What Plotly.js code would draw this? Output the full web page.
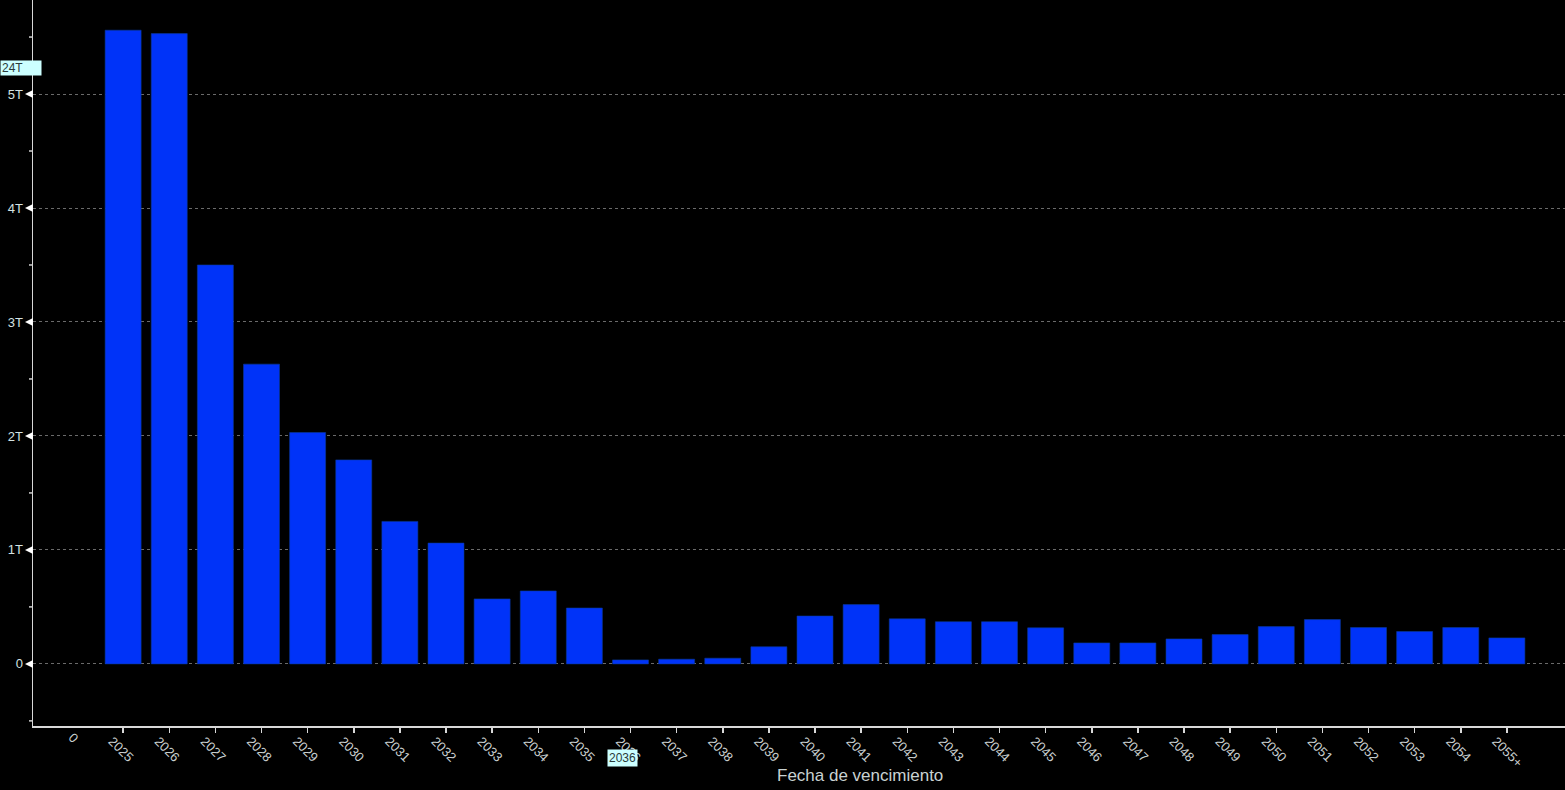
<!DOCTYPE html>
<html>
<head>
<meta charset="utf-8">
<script src="https://cdn.plot.ly/plotly-3.0.1.min.js"></script>
<style>
html,body{margin:0;padding:0;background:#000;}
#chart{width:1565px;height:790px;}
</style>
</head>
<body>
<div id="chart"></div>
<script>
// Categories (maturity year) and outstanding amount in trillions
const categories = ["0","2025","2026","2027","2028","2029","2030","2031","2032","2033","2034","2035","2036","2037","2038","2039","2040","2041","2042","2043","2044","2045","2046","2047","2048","2049","2050","2051","2052","2053","2054","2055+"];
const valuesT = [null,5.56,5.53,3.50,2.63,2.03,1.79,1.25,1.06,0.57,0.64,0.49,0.035,0.041,0.05,0.15,0.42,0.52,0.395,0.37,0.37,0.316,0.184,0.184,0.219,0.257,0.327,0.389,0.319,0.284,0.319,0.228];
const yTickVals = [0,1,2,3,4,5];
const yTickText = ["0","1T","2T","3T","4T","5T"];
const yMinorVals = [-0.5,0.5,1.5,2.5,3.5,4.5,5.5];
const xTitle = "Fecha de vencimiento";
const crossYLabel = "24T";
const crossYValue = 5.23;
const crossXLabel = "2036";

const font = "Liberation Sans, Arial, sans-serif";
const tickColor = "#c9cfcf";

const shapes = [];
yTickVals.forEach(v => {
  shapes.push({type:"path", xref:"paper", yref:"y", xsizemode:"pixel", ysizemode:"pixel",
    xanchor:0, yanchor:v, path:"M-8,0 L0,4 L0,-4 Z",
    fillcolor:"#ffffff", line:{width:0}});
});
yMinorVals.forEach(v => {
  shapes.push({type:"path", xref:"paper", yref:"y", xsizemode:"pixel", ysizemode:"pixel",
    xanchor:0, yanchor:v, path:"M-4,0 L0,0",
    line:{color:"#d0d0d0", width:1.5}});
});

const trace = {
  type:"bar",
  x: categories,
  y: valuesT,
  marker:{color:"#0033f8", line:{color:"#0a3a9a", width:0.6}},
  hoverinfo:"x+y"
};

const layout = {
  width:1565, height:790,
  paper_bgcolor:"#000000", plot_bgcolor:"#000000",
  margin:{l:33, r:0, t:0, b:64},
  bargap:0.22,
  showlegend:false,
  font:{family:font, color:tickColor, size:13},
  xaxis:{
    type:"category", automargin:false,
    categoryorder:"array", categoryarray:categories,
    range:[-0.954, 32.26],
    tickvals: categories.slice(1),
    ticktext: categories.slice(1),
    tickangle:45,
    ticklabelshift:-11, ticklabelstandoff:-4,
    ticks:"outside", ticklen:5, tickcolor:"#d8d8d8", tickwidth:1.5,
    showline:true, linecolor:"#d8d8d8", linewidth:1.5,
    showgrid:false, zeroline:false,
    tickfont:{family:font, size:13, color:tickColor}
  },
  yaxis:{
    automargin:false,
    range:[-0.545, 5.825],
    tickvals:yTickVals, ticktext:yTickText,
    ticks:"", ticklabelstandoff:6,
    showline:true, linecolor:"#d8d8d8", linewidth:1.5,
    showgrid:true, gridcolor:"#6a6a6a", griddash:"dot", gridwidth:1,
    zeroline:false,
    tickfont:{family:font, size:13, color:"#d4e2e2"}
  },
  shapes: shapes,
  annotations:[
    {xref:"paper", yref:"paper", x:0.54, y:0, yshift:-49, showarrow:false,
     text:xTitle, font:{family:font, size:17, color:"#c9d2d2"}, xanchor:"center", yanchor:"middle"},
    {xref:"x", yref:"paper", x:0, y:0, yshift:-1, xshift:-4, showarrow:false,
     text:categories[0], textangle:45, font:{family:font, size:13, color:tickColor}, yanchor:"top"},
    {xref:"paper", yref:"y", x:0, xshift:-33, y:crossYValue, showarrow:false,
     text:crossYLabel, xanchor:"left", yanchor:"middle", align:"left",
     width:38, height:12, bgcolor:"#ccffff", borderpad:1,
     font:{family:font, size:12, color:"#2a3a3a"}},
    {xref:"x", yref:"paper", x:categories.indexOf(crossXLabel), xshift:-8, y:0, yshift:-32, showarrow:false,
     text:crossXLabel, xanchor:"center", yanchor:"middle",
     bgcolor:"#ccffff", borderpad:1,
     font:{family:font, size:12, color:"#2a3a3a"}}
  ]
};

Plotly.newPlot("chart", [trace], layout, {displayModeBar:false, staticPlot:true});
</script>
</body>
</html>
